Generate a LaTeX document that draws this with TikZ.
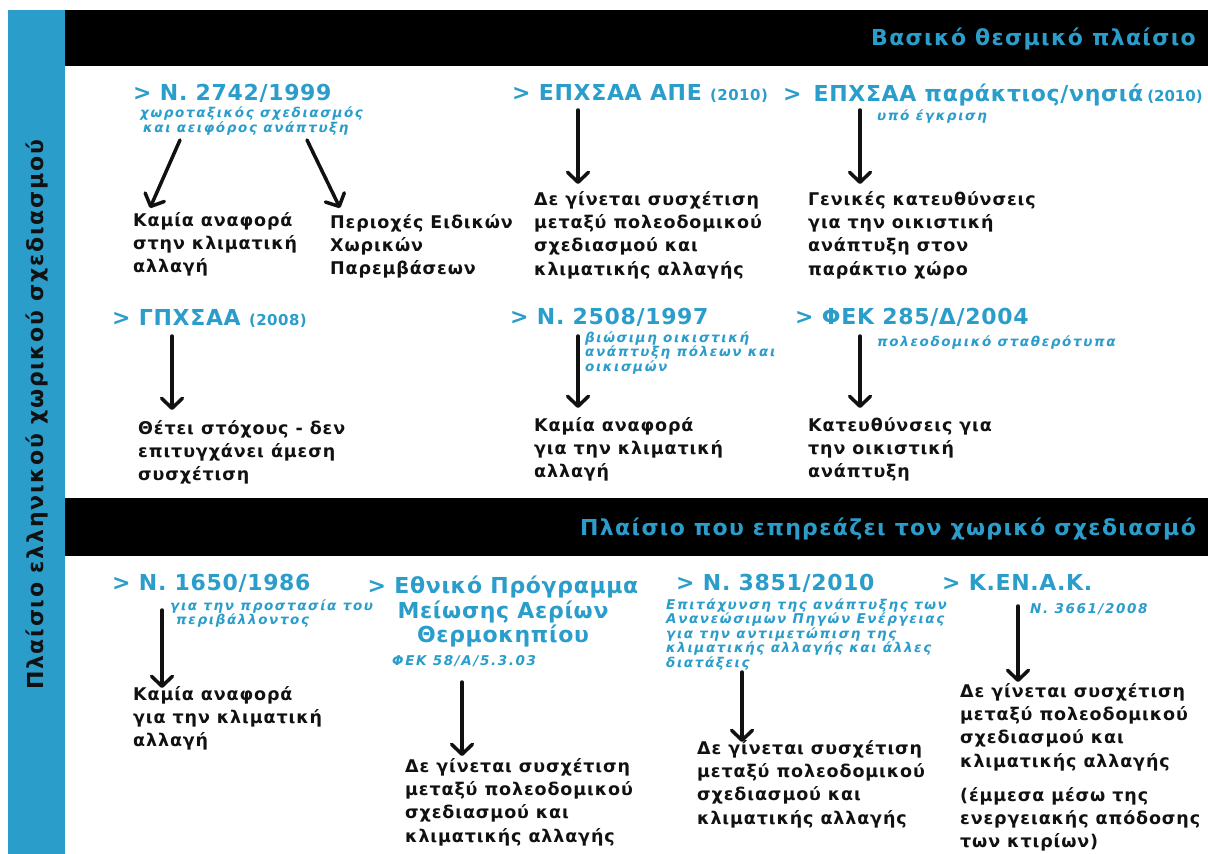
\documentclass[tikz,border=0pt]{standalone}
\usepackage{fontspec}
\setmainfont{DejaVu Sans}
\newfontfamily\headf[LetterSpace=3]{DejaVu Sans}
\newfontfamily\bandf[LetterSpace=6]{DejaVu Sans}
\newfontfamily\bodyf[LetterSpace=5]{DejaVu Sans}
\newfontfamily\sidef[LetterSpace=8]{DejaVu Sans}
\newfontfamily\notef[LetterSpace=12]{DejaVu Sans}
\usetikzlibrary{arrows.meta}
\definecolor{cblue}{RGB}{43,157,203}
\definecolor{ink}{RGB}{17,17,17}
\tikzset{
  head/.style={anchor=north west, inner sep=0pt, text=cblue, align=left,
    font=\headf\bfseries\fontsize{22}{24.5}\selectfont},
  note/.style={anchor=north west, inner sep=0pt, text=cblue, align=left,
    font=\notef\bfseries\itshape\fontsize{13.5}{10.5}\selectfont},
  body/.style={anchor=north west, inner sep=0pt, text=ink, align=left,
    font=\bodyf\bfseries\fontsize{17.5}{23.3}\selectfont},
  band/.style={anchor=east, inner sep=0pt, text=cblue,
    font=\bandf\bfseries\fontsize{22}{22}\selectfont},
  link/.style={draw=ink, line width=3.5pt, line cap=round,
    -{Straight Barb[length=10pt,width=21pt,line width=3.5pt,round]}},
}
\newcommand{\yr}[1]{{\fontsize{15}{15}\selectfont#1}}
\begin{document}
\begin{tikzpicture}[x=1pt,y=-1pt]
\useasboundingbox (0,0) rectangle (1208,854);
\fill[white] (0,0) rectangle (1208,854);
% side bar and section bands
\fill[cblue] (8,10) rectangle (65,854);
\fill[black] (65,10) rectangle (1208,66);
\fill[black] (65,498) rectangle (1208,556);
\node[rotate=90, inner sep=0pt, text=ink, font=\sidef\bfseries\fontsize{22}{22}\selectfont]
  (side) at (37,415) {Πλαίσιο ελληνικού χωρικού σχεδιασμού};
\node[band] (b1) at (1196,39) {Βασικό θεσμικό πλαίσιο};
\node[band] (b2) at (1196,529) {Πλαίσιο που επηρεάζει τον χωρικό σχεδιασμό};

% ---------- row 1 ----------
\node[head] (h1) at (133,84) {> Ν. 2742/1999};
\node[note] (s1) at (140,107) {χωροταξικός σχεδιασμός\\\hspace*{3pt}και αειφόρος ανάπτυξη};
\node[body] (t1a) at (133,212) {Καμία αναφορά\\στην κλιματική\\αλλαγή};
\node[body] (t1b) at (330,214) {Περιοχές Ειδικών\\Χωρικών\\Παρεμβάσεων};
\coordinate (a1s) at (180,140); \coordinate (a1e) at (150,208);
\coordinate (a2s) at (307,140); \coordinate (a2e) at (340,208);
\draw[link] (a1s) -- (a1e);
\draw[link] (a2s) -- (a2e);

\node[head] (h2) at (512,84) {> ΕΠΧΣΑΑ ΑΠΕ \yr{(2010)}};
\coordinate (a3s) at (578,110); \coordinate (a3e) at (578,184);
\draw[link] (a3s) -- (a3e);
\node[body] (t2) at (534,191) {Δε γίνεται συσχέτιση\\μεταξύ πολεοδομικού\\σχεδιασμού και\\κλιματικής αλλαγής};

\node[head] (h3) at (783,84) {>\hspace{12pt}ΕΠΧΣΑΑ παράκτιος/νησιά\hspace{4pt}{\headf\bfseries\addfontfeatures{LetterSpace=0}\yr{(2010)}}};
\node[note] (s3) at (877,110) {υπό έγκριση};
\coordinate (a4s) at (860,110); \coordinate (a4e) at (860,184);
\draw[link] (a4s) -- (a4e);
\node[body] (t3) at (808,191) {Γενικές κατευθύνσεις\\για την οικιστική\\ανάπτυξη στον\\παράκτιο χώρο};

% ---------- row 2 ----------
\node[head] (h4) at (112,309) {> ΓΠΧΣΑΑ \yr{(2008)}};
\coordinate (a5s) at (172,336); \coordinate (a5e) at (172,410);
\draw[link] (a5s) -- (a5e);
\node[body] (t4) at (138,420) {Θέτει στόχους - δεν\\επιτυγχάνει άμεση\\συσχέτιση};

\node[head] (h5) at (510,308) {> Ν. 2508/1997};
\node[note] (s5) at (585,331) {βιώσιμη οικιστική\\ανάπτυξη πόλεων και\\οικισμών};
\coordinate (a6s) at (578,336); \coordinate (a6e) at (578,408);
\draw[link] (a6s) -- (a6e);
\node[body] (t5) at (534,417) {Καμία αναφορά\\για την κλιματική\\αλλαγή};

\node[head] (h6) at (795,308) {> ΦΕΚ 285/Δ/2004};
\node[note] (s6) at (877,335) {πολεοδομικό σταθερότυπα};
\coordinate (a7s) at (860,336); \coordinate (a7e) at (860,408);
\draw[link] (a7s) -- (a7e);
\node[body] (t6) at (808,417) {Κατευθύνσεις για\\την οικιστική\\ανάπτυξη};

% ---------- row 3 ----------
\node[head] (h7) at (112,574) {> Ν. 1650/1986};
\node[note] (s7) at (170,599) {για την προστασία του\\\hspace*{6pt}περιβάλλοντος};
\coordinate (a8s) at (162,610); \coordinate (a8e) at (162,688);
\draw[link] (a8s) -- (a8e);
\node[body] (t7) at (133,686) {Καμία αναφορά\\για την κλιματική\\αλλαγή};

\node[head, anchor=north, align=center] (h8) at (503,576) {> Εθνικό Πρόγραμμα\\Μείωσης Αερίων\\Θερμοκηπίου};
\node[note] (s8) at (392,655) {ΦΕΚ 58/Α/5.3.03};
\coordinate (a9s) at (462,682); \coordinate (a9e) at (462,756);
\draw[link] (a9s) -- (a9e);
\node[body] (t8) at (405,758) {Δε γίνεται συσχέτιση\\μεταξύ πολεοδομικού\\σχεδιασμού και\\κλιματικής αλλαγής};

\node[head] (h9) at (676,574) {> Ν. 3851/2010};
\node[note] (s9) at (666,598) {Επιτάχυνση της ανάπτυξης των\\Ανανεώσιμων Πηγών Ενέργειας\\για την αντιμετώπιση της\\κλιματικής αλλαγής και άλλες\\διατάξεις};
\coordinate (a10s) at (742,672); \coordinate (a10e) at (742,742);
\draw[link] (a10s) -- (a10e);
\node[body] (t9) at (697,740) {Δε γίνεται συσχέτιση\\μεταξύ πολεοδομικού\\σχεδιασμού και\\κλιματικής αλλαγής};

\node[head] (h10) at (942,574) {> Κ.ΕΝ.Α.Κ.};
\node[note] (s10) at (1030,603) {Ν. 3661/2008};
\coordinate (a11s) at (1018,606); \coordinate (a11e) at (1018,682);
\draw[link] (a11s) -- (a11e);
\node[body] (t10) at (960,683) {Δε γίνεται συσχέτιση\\μεταξύ πολεοδομικού\\σχεδιασμού και\\κλιματικής αλλαγής};
\node[body] (t11) at (960,787) {(έμμεσα μέσω της\\ενεργειακής απόδοσης\\των κτιρίων)};
\end{tikzpicture}
\end{document}
